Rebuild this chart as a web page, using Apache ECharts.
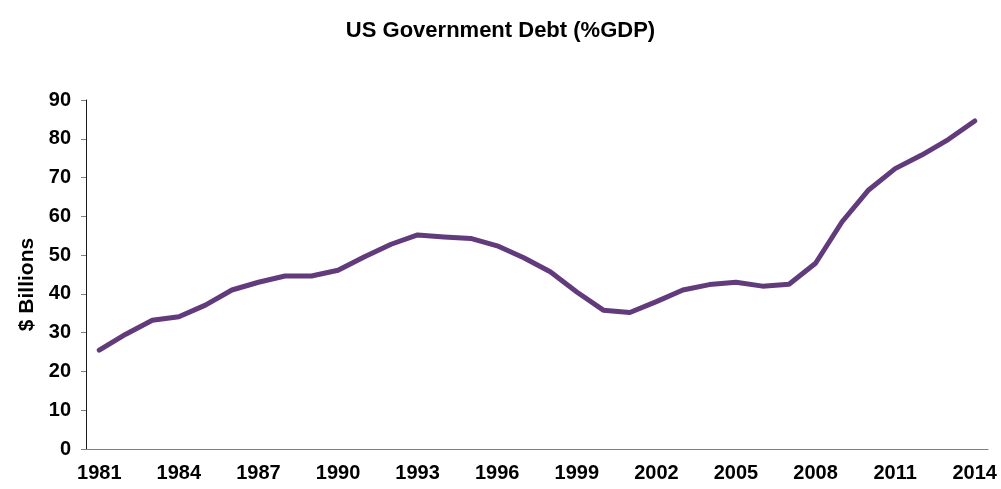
<!DOCTYPE html>
<html>
<head>
<meta charset="utf-8">
<script src="https://cdn.jsdelivr.net/npm/echarts@6/dist/echarts.min.js"></script>
<style>
  html, body { margin: 0; padding: 0; background: #fff; }
  #chart { width: 1001px; height: 489px; }
</style>
</head>
<body>
<div id="chart"></div>
<script>
// Years shown on the category axis
const years = [
  '1981','1982','1983','1984','1985','1986','1987','1988','1989','1990',
  '1991','1992','1993','1994','1995','1996','1997','1998','1999','2000',
  '2001','2002','2003','2004','2005','2006','2007','2008','2009','2010',
  '2011','2012','2013','2014'
];

// Federal debt held by the public, percent of GDP
const debtPctGdp = [
  25.5, 29.6, 33.2, 34.1, 37.1, 41.0, 43.0, 44.6, 44.6, 46.1,
  49.6, 52.8, 55.2, 54.7, 54.3, 52.4, 49.3, 45.7, 40.5, 35.8,
  35.2, 38.0, 41.0, 42.4, 43.0, 42.0, 42.5, 47.9, 58.6, 66.8,
  72.3, 75.8, 79.8, 84.6
];

const yTicks = { min: 0, max: 90, step: 10 };

const chart = echarts.init(document.getElementById('chart'));
const font = '"Liberation Sans", Arial, sans-serif';

chart.setOption({
  animation: false,
  title: {
    text: 'US Government Debt (%GDP)',
    left: 'center',
    top: 15,
    textStyle: { fontFamily: font, fontWeight: 'bold', fontSize: 22, color: '#000' }
  },
  grid: { left: 86, right: 13, top: 100, bottom: 40 },
  xAxis: {
    type: 'category',
    data: years,
    boundaryGap: true,
    axisLine: { lineStyle: { color: '#7f7f7f', width: 1 } },
    axisTick: { interval: 2, length: 5, lineStyle: { color: '#7f7f7f' } },
    axisLabel: {
      interval: 2,
      margin: 14,
      fontFamily: font, fontWeight: 'bold', fontSize: 20, color: '#000'
    },
    splitLine: { show: false }
  },
  yAxis: {
    type: 'value',
    min: yTicks.min,
    max: yTicks.max,
    interval: yTicks.step,
    name: '$ Billions',
    nameLocation: 'middle',
    nameGap: 48,
    nameRotate: 90,
    nameTextStyle: {
      fontFamily: font, fontWeight: 'bold', fontSize: 21, color: '#000',
      padding: [0, 20, 0, 0]
    },
    axisLine: { show: true, lineStyle: { color: '#1a1a1a', width: 1 } },
    axisTick: { show: true, length: 5, lineStyle: { color: '#7f7f7f' } },
    axisLabel: {
      margin: 15,
      fontFamily: font, fontWeight: 'bold', fontSize: 20, color: '#000'
    },
    splitLine: { show: false }
  },
  series: [{
    type: 'line',
    data: debtPctGdp,
    symbol: 'none',
    smooth: false,
    lineStyle: { color: '#613b7c', width: 5, cap: 'round', join: 'round' }
  }]
});
</script>
</body>
</html>
